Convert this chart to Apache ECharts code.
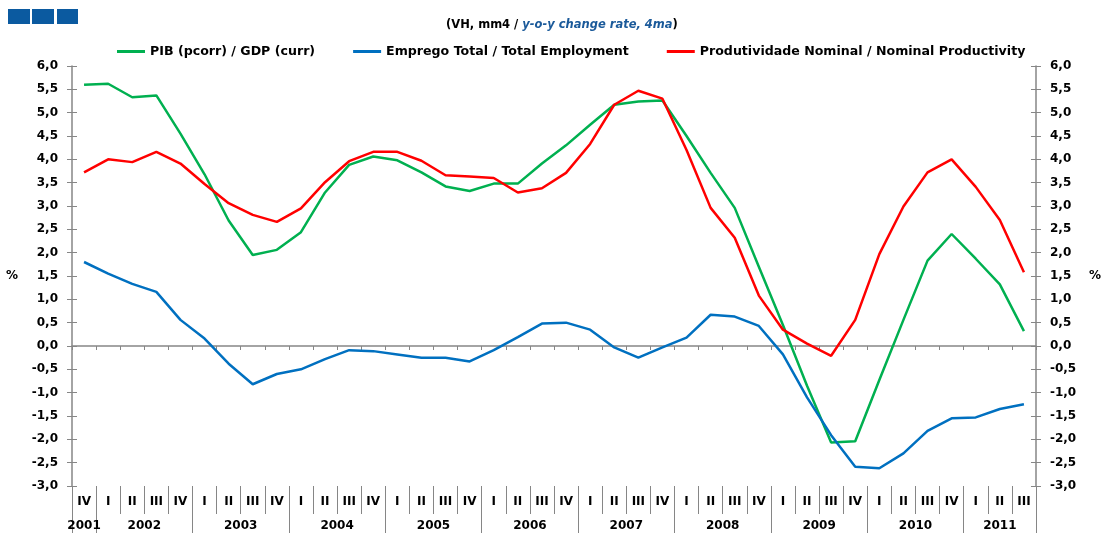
<!DOCTYPE html>
<html><head><meta charset="utf-8">
<script src="https://cdn.jsdelivr.net/npm/echarts@6/dist/echarts.min.js"></script>
<style>html,body{margin:0;padding:0;background:#fff}#c{width:1104px;height:533px}</style>
</head><body><div id="c"></div>
<script>
// Quarter labels (2001 IV .. 2011 III)
const quarters = ['IV','I','II','III','IV','I','II','III','IV','I','II','III','IV','I','II','III','IV','I','II','III','IV','I','II','III','IV','I','II','III','IV','I','II','III','IV','I','II','III','IV','I','II','III'];
const quarterYears = ['2001','2002','2002','2002','2002','2003','2003','2003','2003','2004','2004','2004','2004','2005','2005','2005','2005','2006','2006','2006','2006','2007','2007','2007','2007','2008','2008','2008','2008','2009','2009','2009','2009','2010','2010','2010','2010','2011','2011','2011'];
const years = ['2001','2002','2003','2004','2005','2006','2007','2008','2009','2010','2011'];

const gdp = [5.60,5.62,5.33,5.37,4.55,3.68,2.69,1.95,2.06,2.44,3.29,3.88,4.06,3.98,3.72,3.42,3.32,3.48,3.48,3.91,4.30,4.74,5.17,5.24,5.26,4.50,3.71,2.96,1.70,0.45,-0.85,-2.07,-2.04,-0.73,0.56,1.83,2.40,1.87,1.32,0.32];
const employment = [1.80,1.55,1.33,1.16,0.56,0.16,-0.38,-0.82,-0.60,-0.50,-0.28,-0.09,-0.11,-0.18,-0.25,-0.25,-0.33,-0.09,0.19,0.48,0.50,0.35,-0.03,-0.25,-0.03,0.18,0.67,0.63,0.43,-0.18,-1.10,-1.91,-2.59,-2.62,-2.30,-1.82,-1.55,-1.53,-1.35,-1.25];
const productivity = [3.72,4.00,3.94,4.16,3.91,3.47,3.06,2.81,2.66,2.95,3.51,3.96,4.16,4.16,3.97,3.66,3.63,3.60,3.29,3.38,3.71,4.33,5.17,5.47,5.30,4.20,2.96,2.32,1.08,0.35,0.05,-0.21,0.56,1.97,2.99,3.72,4.00,3.41,2.70,1.58];

const seriesNames = ['PIB (pcorr) / GDP (curr)','Emprego Total / Total Employment','Produtividade Nominal / Nominal Productivity'];

// year group centres in band units, derived from quarterYears
const yearCenters = years.map(y => {
  const first = quarterYears.indexOf(y), last = quarterYears.lastIndexOf(y);
  return (first + last + 1) / 2;
});

const GRAY = '#868686';
const FONT = 'DejaVu Sans';
const fmt = v => v.toFixed(1).replace('.', ',');

const chart = echarts.init(document.getElementById('c'), null, {renderer: 'canvas'});
chart.setOption({
  animation: false,
  backgroundColor: '#fff',
  textStyle: {fontFamily: FONT},
  title: {
    left: 441, top: 14,
    text: '{a|(VH, mm4 / }{b|y-o-y change rate, 4ma}{a|)}',
    textStyle: {
      rich: {
        a: {fontFamily: FONT, fontWeight: 'bold', fontSize: 11.5, color: '#000'},
        b: {fontFamily: FONT, fontWeight: 'bold', fontStyle: 'italic', fontSize: 11.5, color: '#1b5a9a'}
      }
    }
  },
  graphic: [
    {type: 'rect', shape: {x: 8, y: 9, width: 22, height: 15}, style: {fill: '#0b5aa0'}},
    {type: 'rect', shape: {x: 32, y: 9, width: 22, height: 15}, style: {fill: '#0b5aa0'}},
    {type: 'rect', shape: {x: 57, y: 9, width: 21, height: 15}, style: {fill: '#0b5aa0'}}
  ],
  legend: {
    left: 112, top: 40,
    data: seriesNames,
    icon: 'rect', itemWidth: 28, itemHeight: 3, itemGap: 38,
    textStyle: {fontFamily: FONT, fontWeight: 'bold', fontSize: 12.6, color: '#000', padding: [0, 0, 0, 0]}
  },
  grid: {left: 72, right: 60, top: 66, bottom: 47, containLabel: false},
  xAxis: [
    {
      type: 'category', data: quarters, position: 'bottom', boundaryGap: true,
      axisLine: {show: true, onZero: true, lineStyle: {color: GRAY, width: 1.5}},
      axisTick: {show: true, interval: 0, length: 4, lineStyle: {color: GRAY}},
      axisLabel: {show: false}, splitLine: {show: false}
    },
    {
      type: 'category', data: quarters, position: 'bottom', boundaryGap: true,
      axisLine: {show: false, onZero: false},
      axisTick: {show: true, interval: 0, length: 28, lineStyle: {color: GRAY}},
      axisLabel: {show: true, interval: 0, margin: 10, fontFamily: FONT, fontWeight: 'bold', fontSize: 12, color: '#000'},
      splitLine: {show: false}
    },
    {
      type: 'category', data: quarters, position: 'bottom', boundaryGap: true,
      axisLine: {show: false, onZero: false},
      axisTick: {show: true, length: 47, lineStyle: {color: GRAY},
        interval: (i) => i === 0 || quarters[i] === 'I'},
      axisLabel: {show: false}, splitLine: {show: false}
    },
    {
      type: 'value', min: 0, max: quarters.length, interval: 0.5, position: 'bottom',
      axisLine: {show: false, onZero: false}, axisTick: {show: false}, splitLine: {show: false},
      axisLabel: {show: true, margin: 34, fontFamily: FONT, fontWeight: 'bold', fontSize: 12, color: '#000',
        showMinLabel: true, showMaxLabel: true,
        formatter: (v) => { const k = yearCenters.indexOf(v); return k >= 0 ? years[k] : ''; }}
    }
  ],
  yAxis: [
    {
      type: 'value', position: 'left', min: -3, max: 6, interval: 0.5,
      name: '%', nameLocation: 'middle', nameRotate: 0, nameGap: 54,
      nameTextStyle: {fontFamily: FONT, fontWeight: 'bold', fontSize: 12, color: '#000'},
      axisLine: {show: true, lineStyle: {color: GRAY, width: 1.5}},
      axisTick: {show: true, length: 5, lineStyle: {color: GRAY}},
      axisLabel: {margin: 14, formatter: fmt, fontFamily: FONT, fontWeight: 'bold', fontSize: 12, color: '#000'},
      splitLine: {show: false}
    },
    {
      type: 'value', position: 'right', min: -3, max: 6, interval: 0.5,
      name: '%', nameLocation: 'middle', nameRotate: 0, nameGap: 53,
      nameTextStyle: {fontFamily: FONT, fontWeight: 'bold', fontSize: 12, color: '#000'},
      axisLine: {show: true, lineStyle: {color: GRAY, width: 1.5}},
      axisTick: {show: true, length: 5, lineStyle: {color: GRAY}},
      axisLabel: {margin: 14, formatter: fmt, fontFamily: FONT, fontWeight: 'bold', fontSize: 12, color: '#000'},
      splitLine: {show: false}
    },
    {
      type: 'value', position: 'left', min: -3, max: 6, interval: 0.5,
      axisLine: {show: false}, axisTick: {show: true, inside: true, length: 5, lineStyle: {color: GRAY}},
      axisLabel: {show: false}, splitLine: {show: false}
    },
    {
      type: 'value', position: 'right', min: -3, max: 6, interval: 0.5,
      axisLine: {show: false}, axisTick: {show: true, inside: true, length: 5, lineStyle: {color: GRAY}},
      axisLabel: {show: false}, splitLine: {show: false}
    }
  ],
  series: [
    {name: seriesNames[0], type: 'line', data: gdp, xAxisIndex: 0, yAxisIndex: 0, showSymbol: false, symbol: 'none',
      lineStyle: {color: '#00b050', width: 2.5}, itemStyle: {color: '#00b050'}, z: 3},
    {name: seriesNames[1], type: 'line', data: employment, xAxisIndex: 0, yAxisIndex: 0, showSymbol: false, symbol: 'none',
      lineStyle: {color: '#0070c0', width: 2.5}, itemStyle: {color: '#0070c0'}, z: 3},
    {name: seriesNames[2], type: 'line', data: productivity, xAxisIndex: 0, yAxisIndex: 0, showSymbol: false, symbol: 'none',
      lineStyle: {color: '#ff0000', width: 2.5}, itemStyle: {color: '#ff0000'}, z: 4}
  ]
});
</script></body></html>
